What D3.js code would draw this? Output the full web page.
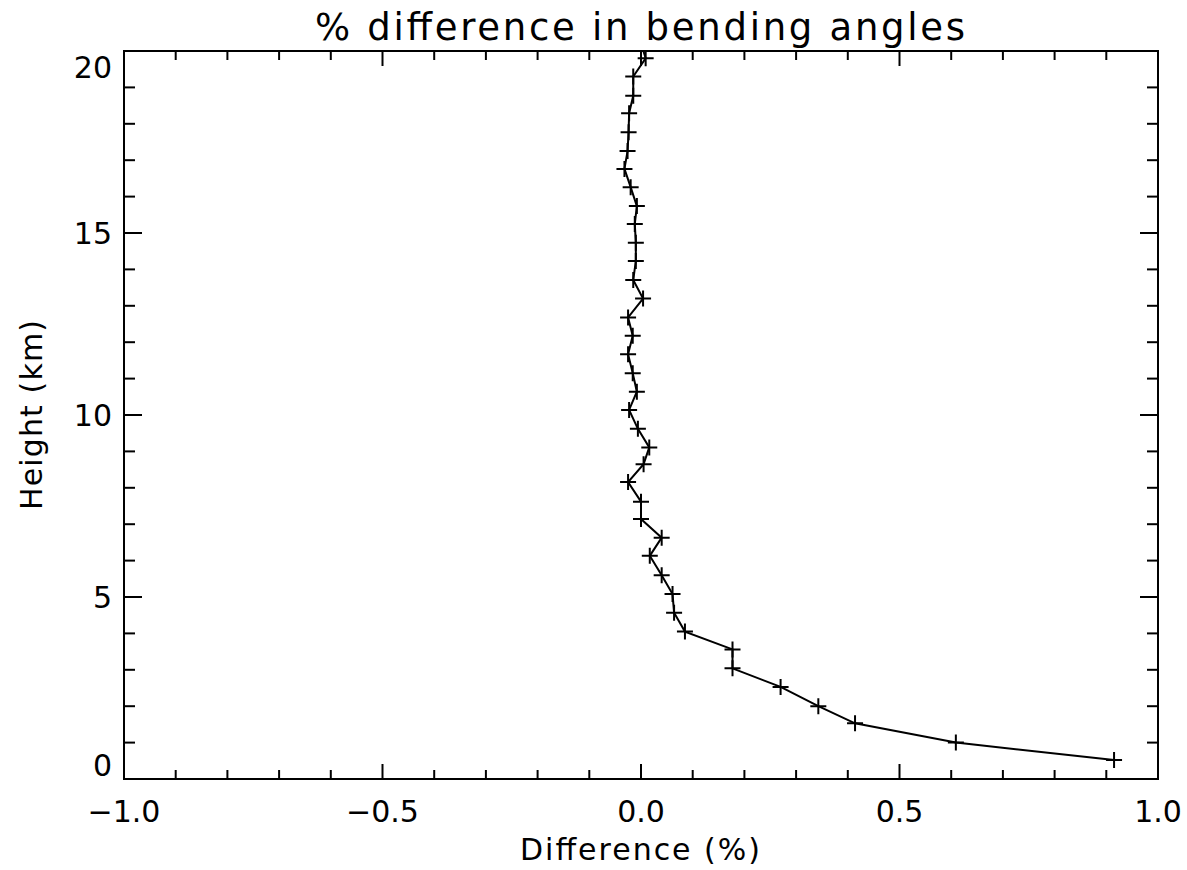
<!DOCTYPE html>
<html>
<head>
<meta charset="utf-8">
<script src="https://cdn.jsdelivr.net/npm/d3@7"></script>
<style>
  html, body { margin: 0; padding: 0; background: #fff; }
  svg { display: block; }
  text { font-family: "DejaVu Sans", "Liberation Sans", sans-serif; fill: #000; }
</style>
</head>
<body>
<svg id="chart" width="1187" height="870"></svg>
<script>
// ---- data ----
const heights = [0.52, 1.0, 1.53, 2.0, 2.53, 3.04, 3.56, 4.05, 4.57, 5.08,
                 5.6, 6.13, 6.63, 7.14, 7.62, 8.16, 8.65, 9.11, 9.62, 10.14,
                 10.64, 11.15, 11.67, 12.18, 12.68, 13.2, 13.71, 14.23, 14.73, 15.25,
                 15.74, 16.26, 16.76, 17.25, 17.77, 18.29, 18.77, 19.3, 19.8, 20.31];
const differences = [0.915, 0.609, 0.414, 0.343, 0.270, 0.177, 0.177, 0.085, 0.064, 0.061,
                     0.040, 0.017, 0.040, 0.0, 0.0, -0.025, 0.005, 0.016, -0.006, -0.023,
                     -0.008, -0.016, -0.025, -0.016, -0.025, 0.004, -0.015, -0.010, -0.010, -0.012,
                     -0.008, -0.020, -0.032, -0.026, -0.024, -0.023, -0.015, -0.015, 0.009, -0.002];
const xTickValues = [-1.0, -0.5, 0.0, 0.5, 1.0];
const xTickLabels = ["\u22121.0", "\u22120.5", "0.0", "0.5", "1.0"];
const yTickValues = [0, 5, 10, 15, 20];
const yTickLabels = ["0", "5", "10", "15", "20"];
const titleText = "% difference in bending angles";
const xTitle = "Difference (%)";
const yTitle = "Height (km)";

// ---- layout ----
const L = 124, R = 1158, T = 51, B = 779;
const svg = d3.select("#chart");
const x = d3.scaleLinear().domain([-1, 1]).range([L, R]);
const y = d3.scaleLinear().domain([0, 20]).range([B, T]);

svg.append("rect").attr("width", 1187).attr("height", 870).attr("fill", "#fff");

svg.append("defs").append("clipPath").attr("id", "clip")
  .append("rect").attr("x", L).attr("y", T).attr("width", R - L).attr("height", B - T);

// ticks
const xMinor = d3.range(-10, 11).map(d => d / 10).filter(d => !xTickValues.some(v => Math.abs(v - d) < 1e-9));
const yMinor = d3.range(0, 21).filter(d => yTickValues.indexOf(d) < 0);
const tickG = svg.append("g").attr("stroke", "#000").attr("stroke-width", 2);
const xMajLen = 15, xMinLen = 9, yMajLen = 18, yMinLen = 11;
function xt(vals, len) {
  vals.forEach(v => {
    tickG.append("line").attr("x1", x(v)).attr("x2", x(v)).attr("y1", B).attr("y2", B - len);
    tickG.append("line").attr("x1", x(v)).attr("x2", x(v)).attr("y1", T).attr("y2", T + len);
  });
}
function yt(vals, len) {
  vals.forEach(v => {
    tickG.append("line").attr("y1", y(v)).attr("y2", y(v)).attr("x1", L).attr("x2", L + len);
    tickG.append("line").attr("y1", y(v)).attr("y2", y(v)).attr("x1", R).attr("x2", R - len);
  });
}
xt(xTickValues, xMajLen); xt(xMinor, xMinLen);
yt(yTickValues, yMajLen); yt(yMinor, yMinLen);

// frame
svg.append("rect").attr("x", L).attr("y", T).attr("width", R - L).attr("height", B - T)
  .attr("fill", "none").attr("stroke", "#000").attr("stroke-width", 2);

// tick labels
svg.append("g").selectAll("text").data(xTickValues).join("text")
  .attr("x", d => x(d)).attr("y", 822)
  .attr("text-anchor", "middle").attr("font-size", 30)
  .text((d, i) => xTickLabels[i]);

// end labels sit inside the axis span, as in the reference
const yLabelShift = d => (d === 0 ? -14 : (d === 20 ? 16 : 0));
svg.append("g").selectAll("text").data(yTickValues).join("text")
  .attr("x", 112).attr("y", d => y(d) + yLabelShift(d) + 11)
  .attr("text-anchor", "end").attr("font-size", 30)
  .text((d, i) => yTickLabels[i]);

// titles
svg.append("text").attr("x", 640).attr("y", 40).attr("text-anchor", "middle")
  .attr("font-size", 37).attr("textLength", 650).attr("lengthAdjust", "spacing").text(titleText);
svg.append("text").attr("x", 640).attr("y", 860).attr("text-anchor", "middle")
  .attr("font-size", 30).attr("textLength", 240).attr("lengthAdjust", "spacing").text(xTitle);
svg.append("text").attr("transform", "translate(42,415) rotate(-90)").attr("text-anchor", "middle")
  .attr("font-size", 30).attr("textLength", 190).attr("lengthAdjust", "spacing").text(yTitle);

// data
const pts = heights.map((h, i) => ({ h, d: differences[i] }));
const plot = svg.append("g").attr("clip-path", "url(#clip)");
plot.append("path").datum(pts)
  .attr("d", d3.line().x(p => x(p.d)).y(p => y(p.h)))
  .attr("fill", "none").attr("stroke", "#000").attr("stroke-width", 2);
const s = 8;
plot.append("g").selectAll("path").data(pts).join("path")
  .attr("d", p => `M${x(p.d) - s},${y(p.h)}H${x(p.d) + s}M${x(p.d)},${y(p.h) - s}V${y(p.h) + s}`)
  .attr("stroke", "#000").attr("stroke-width", 2).attr("fill", "none");
</script>
</body>
</html>
